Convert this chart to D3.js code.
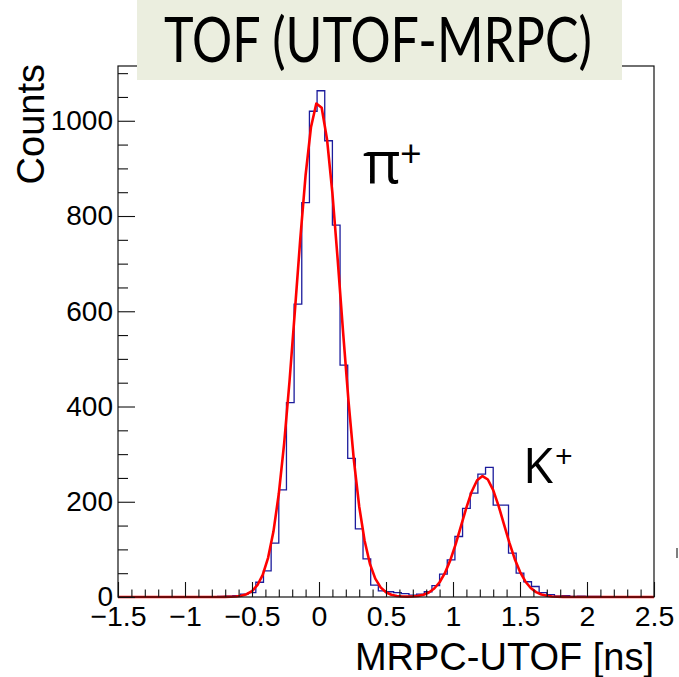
<!DOCTYPE html>
<html>
<head>
<meta charset="utf-8">
<script src="https://cdn.jsdelivr.net/npm/d3@7"></script>
<style>
  html, body { margin: 0; padding: 0; background: #ffffff; }
  svg { display: block; }
</style>
</head>
<body>
<svg id="chart" width="679" height="677"></svg>
<script>
// ---------------- data ----------------
const histRange = [-1.5, 2.5];
const nBins = 70;
// counts per bin (bin 0 starts at -1.5, bin width = 4/70 ns)
const binCounts = [
  0, 0, 0, 0, 0, 0, 0, 0, 0, 0,
  0, 0, 0, 1, 2, 3, 6, 9, 31, 55,
  113, 225, 408, 615, 828, 1020, 1063, 958, 781, 487,
  291, 143, 80, 25, 13, 11, 9, 7, 4, 6,
  11, 24, 48, 78, 127, 186, 218, 258, 272, 193,
  193, 92, 50, 32, 22, 9, 5, 2, 3, 1,
  2, 1, 1, 0, 0, 0, 0, 0, 0, 0
];
// double-Gaussian fit parameters (pi+, K+)
const fitAmplitude = [1040, 254];
const fitMean = [-0.006, 1.222];
const fitSigma = [0.166, 0.157];
const fitPoints = 100;

const xTickValues = [-1.5, -1, -0.5, 0, 0.5, 1, 1.5, 2, 2.5];
const xTickLabels = ["\u22121.5", "\u22121", "\u22120.5", "0", "0.5", "1", "1.5", "2", "2.5"];
const yTickValues = [0, 200, 400, 600, 800, 1000];
const yTickLabels = ["0", "200", "400", "600", "800", "1000"];
const yMax = 1115;

const titleText = "TOF (UTOF-MRPC)";
const xTitle = "MRPC-UTOF [ns]";
const yTitle = "Counts";

// ---------------- layout ----------------
const svg = d3.select("#chart");
const frame = { left: 118, right: 654, top: 66, bottom: 597 };

const x = d3.scaleLinear().domain(histRange).range([frame.left, frame.right]);
const y = d3.scaleLinear().domain([0, yMax]).range([frame.bottom, frame.top]);

const binW = (histRange[1] - histRange[0]) / nBins;

// histogram step outline
const histPts = [[histRange[0], 0]];
binCounts.forEach((c, i) => {
  const x0 = histRange[0] + i * binW;
  histPts.push([x0, c]);
  histPts.push([x0 + binW, c]);
});
histPts.push([histRange[1], 0]);

svg.append("path")
  .datum(histPts)
  .attr("fill", "none")
  .attr("stroke", "#1c1c9c")
  .attr("stroke-width", 1.3)
  .attr("d", d3.line().x(d => x(d[0])).y(d => y(d[1])));

// fit curve
const fitFn = v => fitAmplitude.reduce((s, a, j) =>
  s + a * Math.exp(-0.5 * Math.pow((v - fitMean[j]) / fitSigma[j], 2)), 0);
const fitData = d3.range(fitPoints + 1).map(i => {
  const v = histRange[0] + i * (histRange[1] - histRange[0]) / fitPoints;
  return [v, fitFn(v)];
});
svg.append("path")
  .datum(fitData)
  .attr("fill", "none")
  .attr("stroke", "#ff0000")
  .attr("stroke-width", 2.6)
  .attr("stroke-linejoin", "round")
  .attr("d", d3.line().x(d => x(d[0])).y(d => y(d[1])));

// frame
svg.append("rect")
  .attr("x", frame.left).attr("y", frame.top)
  .attr("width", frame.right - frame.left)
  .attr("height", frame.bottom - frame.top)
  .attr("fill", "none")
  .attr("stroke", "#111")
  .attr("stroke-width", 1.2);

const labelFont = "'Liberation Sans', Arial, Helvetica, sans-serif";

// y axis (major + minor ticks inward)
const yAxis = svg.append("g")
  .attr("transform", `translate(${frame.left},0)`)
  .call(d3.axisLeft(y).tickValues(yTickValues)
    .tickFormat((d, i) => yTickLabels[i])
    .tickSizeInner(-17).tickSizeOuter(0).tickPadding(5));
yAxis.select(".domain").remove();
yAxis.selectAll("line").attr("stroke", "#111").attr("stroke-width", 1.1);
yAxis.selectAll("text").attr("font-family", labelFont).attr("font-size", 28).attr("fill", "#000");

const yMinor = d3.range(0, yMax, 50).filter(v => v % 200 !== 0);
const yAxisMinor = svg.append("g")
  .attr("transform", `translate(${frame.left},0)`)
  .call(d3.axisLeft(y).tickValues(yMinor).tickFormat("").tickSizeInner(-10).tickSizeOuter(0));
yAxisMinor.select(".domain").remove();
yAxisMinor.selectAll("line").attr("stroke", "#111").attr("stroke-width", 1.1);

// x axis
const xAxis = svg.append("g")
  .attr("transform", `translate(0,${frame.bottom})`)
  .call(d3.axisBottom(x).tickValues(xTickValues)
    .tickFormat((d, i) => xTickLabels[i])
    .tickSizeInner(-15).tickSizeOuter(0).tickPadding(9));
xAxis.select(".domain").remove();
xAxis.selectAll("line").attr("stroke", "#111").attr("stroke-width", 1.1);
xAxis.selectAll("text").attr("font-family", labelFont).attr("font-size", 28.5).attr("fill", "#000");

const xMinor = d3.range(0, 41).map(i => histRange[0] + i * 0.1).filter(v => Math.abs(v * 2 - Math.round(v * 2)) > 1e-6);
const xAxisMinor = svg.append("g")
  .attr("transform", `translate(0,${frame.bottom})`)
  .call(d3.axisBottom(x).tickValues(xMinor).tickFormat("").tickSizeInner(-7.5).tickSizeOuter(0));
xAxisMinor.select(".domain").remove();
xAxisMinor.selectAll("line").attr("stroke", "#111").attr("stroke-width", 1.1);

// axis titles
svg.append("text")
  .attr("x", frame.right).attr("y", 670)
  .attr("text-anchor", "end")
  .attr("font-family", labelFont).attr("font-size", 38)
  .attr("fill", "#000")
  .text(xTitle);

svg.append("text")
  .attr("transform", `translate(44,${frame.top - 2}) rotate(-90)`)
  .attr("text-anchor", "end")
  .attr("font-family", labelFont).attr("font-size", 38)
  .attr("fill", "#000")
  .text(yTitle);

// title box
svg.append("rect")
  .attr("x", 137).attr("y", 0).attr("width", 485).attr("height", 80)
  .attr("fill", "#ebeedf");
const titleEl = svg.append("text")
  .attr("x", 0).attr("y", 0)
  .attr("font-family", "Lato, 'Open Sans', sans-serif")
  .attr("font-size", 62)
  .attr("fill", "#000")
  .text(titleText);
const natW = titleEl.node().getComputedTextLength();
const sx = Math.min(1, 428 / natW);
titleEl.attr("transform", `translate(164,62) scale(${sx},1)`);

// particle labels
const partFont = "'Open Sans', 'Noto Sans', sans-serif";
svg.append("text").attr("x", 363).attr("y", 183)
  .attr("font-family", partFont).attr("font-size", 58).attr("fill", "#000").text("\u03c0");
svg.append("text").attr("x", 400).attr("y", 167)
  .attr("font-family", partFont).attr("font-size", 38).attr("fill", "#000").text("+");
svg.append("text").attr("x", 523).attr("y", 483)
  .attr("font-family", partFont).attr("font-size", 49).attr("fill", "#000").text("K");
svg.append("text").attr("x", 555).attr("y", 468)
  .attr("font-family", partFont).attr("font-size", 31).attr("fill", "#000").text("+");

// small stray mark at right edge
svg.append("line")
  .attr("x1", 677).attr("x2", 677).attr("y1", 548).attr("y2", 558)
  .attr("stroke", "#555").attr("stroke-width", 1.5);
</script>
</body>
</html>
